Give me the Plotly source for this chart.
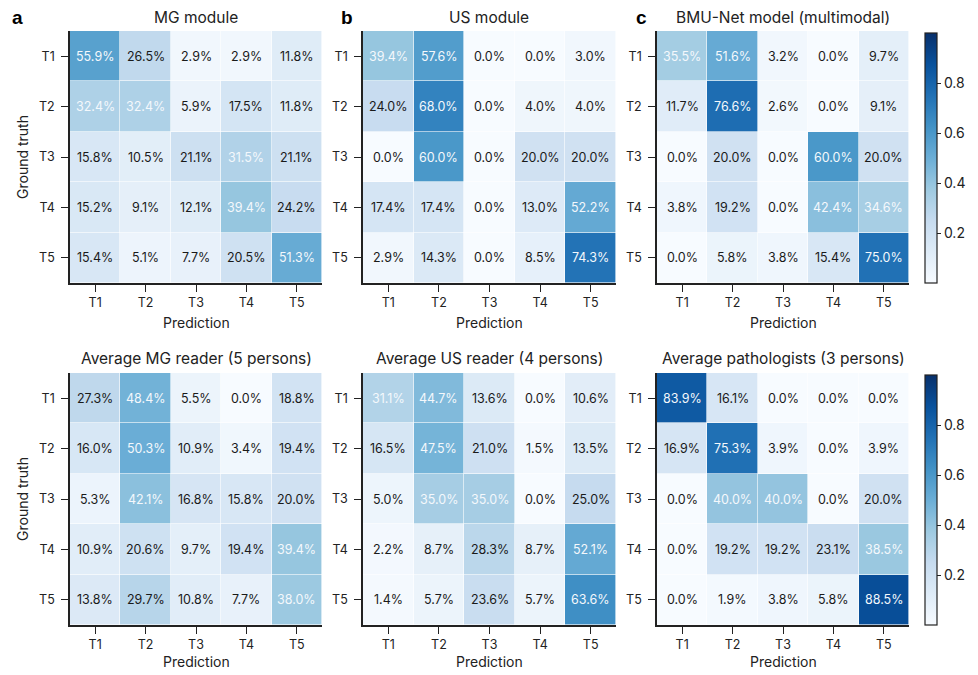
import plotly.graph_objects as go

classes = ["T1", "T2", "T3", "T4", "T5"]

mg_module = [[55.9, 26.5, 2.9, 2.9, 11.8],
             [32.4, 32.4, 5.9, 17.5, 11.8],
             [15.8, 10.5, 21.1, 31.5, 21.1],
             [15.2, 9.1, 12.1, 39.4, 24.2],
             [15.4, 5.1, 7.7, 20.5, 51.3]]
us_module = [[39.4, 57.6, 0.0, 0.0, 3.0],
             [24.0, 68.0, 0.0, 4.0, 4.0],
             [0.0, 60.0, 0.0, 20.0, 20.0],
             [17.4, 17.4, 0.0, 13.0, 52.2],
             [2.9, 14.3, 0.0, 8.5, 74.3]]
bmu_net = [[35.5, 51.6, 3.2, 0.0, 9.7],
           [11.7, 76.6, 2.6, 0.0, 9.1],
           [0.0, 20.0, 0.0, 60.0, 20.0],
           [3.8, 19.2, 0.0, 42.4, 34.6],
           [0.0, 5.8, 3.8, 15.4, 75.0]]
mg_reader = [[27.3, 48.4, 5.5, 0.0, 18.8],
             [16.0, 50.3, 10.9, 3.4, 19.4],
             [5.3, 42.1, 16.8, 15.8, 20.0],
             [10.9, 20.6, 9.7, 19.4, 39.4],
             [13.8, 29.7, 10.8, 7.7, 38.0]]
us_reader = [[31.1, 44.7, 13.6, 0.0, 10.6],
             [16.5, 47.5, 21.0, 1.5, 13.5],
             [5.0, 35.0, 35.0, 0.0, 25.0],
             [2.2, 8.7, 28.3, 8.7, 52.1],
             [1.4, 5.7, 23.6, 5.7, 63.6]]
pathologists = [[83.9, 16.1, 0.0, 0.0, 0.0],
                [16.9, 75.3, 3.9, 0.0, 3.9],
                [0.0, 40.0, 40.0, 0.0, 20.0],
                [0.0, 19.2, 19.2, 23.1, 38.5],
                [0.0, 1.9, 3.8, 5.8, 88.5]]

titles = ["MG module", "US module", "BMU-Net model (multimodal)",
          "Average MG reader (5 persons)", "Average US reader (4 persons)",
          "Average pathologists (3 persons)"]
letters = ["a", "b", "c"]
cbar_ticks = [0.2, 0.4, 0.6, 0.8]

W, H = 978, 675
FONT = "Inter"

blues = [[0.0, "#f7fbff"], [0.125, "#deebf7"], [0.25, "#c6dbef"], [0.375, "#9ecae1"],
         [0.5, "#6baed6"], [0.625, "#4292c6"], [0.75, "#2171b5"], [0.875, "#08519c"],
         [1.0, "#08306b"]]

def px_x(p):
    return p / W

def px_y(p):
    return 1 - p / H

col_px = [(70, 322), (363, 616), (657, 909)]
row_px = [(31, 283), (373, 625)]
pred_off = [39, 36]
mats = [mg_module, us_module, bmu_net, mg_reader, us_reader, pathologists]

fig = go.Figure()
annotations = []
layout = {}
for i, mat in enumerate(mats):
    r, c = divmod(i, 3)
    n = i + 1
    xa = "x" if n == 1 else f"x{n}"
    ya = "y" if n == 1 else f"y{n}"
    frac = [[v / 100 for v in row] for row in mat]
    fig.add_trace(go.Heatmap(
        z=frac, x=list(range(5)), y=list(range(5)),
        coloraxis="coloraxis" if r == 0 else "coloraxis2",
        xaxis=xa, yaxis=ya, hoverinfo="skip", xgap=0.6, ygap=0.6))
    x0, x1 = col_px[c]
    y0, y1 = row_px[r]
    axcommon = dict(showgrid=False, zeroline=False, showline=True, linecolor="#222",
                    linewidth=1.5, ticks="outside", ticklen=7, tickwidth=1.2,
                    tickcolor="#222", tickfont=dict(size=12.5, color="#222", family=FONT),
                    tickvals=list(range(5)), ticktext=classes, mirror=False)
    layout["xaxis" if n == 1 else f"xaxis{n}"] = dict(
        domain=[px_x(x0), px_x(x1)], anchor=ya, range=[-0.5, 4.5], **axcommon)
    layout["yaxis" if n == 1 else f"yaxis{n}"] = dict(
        domain=[px_y(y1), px_y(y0)], anchor=xa, range=[4.5, -0.5],
        ticklabelstandoff=4, **axcommon)
    for ri in range(5):
        for ci in range(5):
            v = mat[ri][ci]
            annotations.append(dict(
                x=ci, y=ri, xref=xa, yref=ya, text=f"{v:.1f}%", showarrow=False,
                font=dict(size=12.5, family=FONT,
                          color="#f4f8fc" if v >= 30 else "#1a1a1a")))
    cx = (x0 + x1) / 2
    annotations.append(dict(x=px_x(cx), y=px_y(y0 - 14), xref="paper", yref="paper",
                            text=titles[i], showarrow=False,
                            font=dict(size=15.5, family=FONT, color="#222"),
                            xanchor="center", yanchor="middle"))
    annotations.append(dict(x=px_x(cx), y=px_y(y1 + pred_off[r]), xref="paper",
                            yref="paper", text="Prediction", showarrow=False,
                            font=dict(size=14, family=FONT, color="#222"),
                            xanchor="center", yanchor="middle"))
    if c == 0:
        annotations.append(dict(x=px_x(22), y=px_y((y0 + y1) / 2), xref="paper",
                                yref="paper", text="Ground truth", showarrow=False,
                                textangle=-90,
                                font=dict(size=14, family=FONT, color="#222"),
                                xanchor="center", yanchor="middle"))
    if r == 0:
        lx = [17, 347, 641][c]
        annotations.append(dict(x=px_x(lx), y=px_y(17), xref="paper", yref="paper",
                                text=f"<b>{letters[c]}</b>", showarrow=False,
                                font=dict(size=19, family="Liberation Sans", color="#000"),
                                xanchor="center", yanchor="middle"))

def cax(ycenter):
    return dict(cmin=0, cmax=1, colorscale=blues,
                colorbar=dict(x=px_x(925), xanchor="left", xpad=0, ypad=0,
                              y=px_y(ycenter), yanchor="middle",
                              len=250, lenmode="pixels", thickness=12,
                              thicknessmode="pixels", outlinewidth=1.2,
                              outlinecolor="#222", ticks="outside", ticklen=4,
                              tickcolor="#222", tickvals=cbar_ticks,
                              tickfont=dict(size=14, family=FONT, color="#222")))

layout["coloraxis"] = cax(158)
layout["coloraxis2"] = cax(500)

fig.update_layout(width=W, height=H, margin=dict(l=0, r=0, t=0, b=0),
                  paper_bgcolor="white", plot_bgcolor="white",
                  annotations=annotations, font=dict(family=FONT), **layout)
fig.write_html("out.html", config={"displayModeBar": False},
               post_script="document.body.style.margin='0';document.body.style.overflow='hidden';")
